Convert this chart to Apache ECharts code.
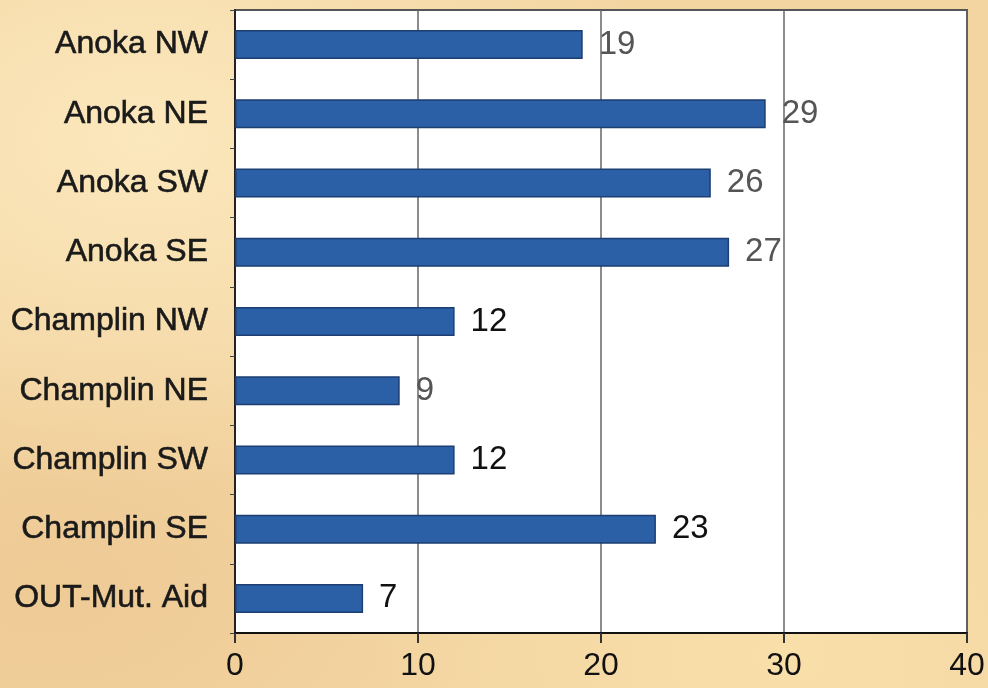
<!DOCTYPE html>
<html>
<head>
<meta charset="utf-8">
<script src="https://cdn.jsdelivr.net/npm/echarts@6/dist/echarts.min.js"></script>
<style>
  html, body { margin: 0; padding: 0; }
  body {
    width: 988px; height: 688px; overflow: hidden;
    background:
      radial-gradient(ellipse at 15% 20%, rgba(255,240,200,0.7), rgba(255,240,200,0) 45%),
      radial-gradient(ellipse at 80% 95%, rgba(250,225,170,0.8), rgba(250,225,170,0) 40%),
      radial-gradient(ellipse at 5% 85%, rgba(235,195,140,0.6), rgba(235,195,140,0) 35%),
      #f3d5a2;
  }
  #chart { width: 988px; height: 688px; }
</style>
</head>
<body>
<div id="chart"></div>
<script>
const categories = ["Anoka NW", "Anoka NE", "Anoka SW", "Anoka SE", "Champlin NW",
  "Champlin NE", "Champlin SW", "Champlin SE", "OUT-Mut. Aid"];
const values = [19, 29, 26, 27, 12, 9, 12, 23, 7];
const labelColors = ["#555", "#555", "#555", "#555", "#111", "#555", "#111", "#111", "#111"];
const xTicks = [0, 10, 20, 30, 40];

const chart = echarts.init(document.getElementById("chart"));

chart.setOption({
  animation: false,
  grid: {
    left: 235, right: 21, top: 10, bottom: 55,
    show: true, backgroundColor: "#ffffff", borderColor: "#555", borderWidth: 2
  },
  xAxis: {
    type: "value",
    min: xTicks[0], max: xTicks[xTicks.length - 1], interval: 10,
    axisLine: { show: true, lineStyle: { color: "#111", width: 2 } },
    axisTick: { show: true, length: 10, lineStyle: { color: "#333", width: 2 } },
    axisLabel: { color: "#111", fontSize: 32, fontFamily: "Liberation Sans, Arial", margin: 17 },
    splitLine: { show: true, lineStyle: { color: "#666", width: 1.5 } }
  },
  yAxis: {
    type: "category",
    data: categories,
    inverse: true,
    axisLine: { show: true, lineStyle: { color: "#222", width: 2 } },
    axisTick: { show: true, length: 5, lineStyle: { color: "#444" } },
    axisLabel: {
      color: "#1a1a1a", fontSize: 32, fontFamily: "Liberation Sans, Arial",
      margin: 27, textBorderColor: "#1a1a1a", textBorderWidth: 0.6
    },
    splitLine: { show: false }
  },
  series: [{
    type: "bar",
    barWidth: 29,
    data: values.map((v, i) => ({
      value: v,
      label: { color: labelColors[i] }
    })),
    itemStyle: { color: "#2b5fa6", borderColor: "#1c3e72", borderWidth: 1.5 },
    label: {
      show: true, position: "right", distance: 16,
      fontSize: 33, fontFamily: "Liberation Sans, Arial"
    }
  }]
});
</script>
</body>
</html>
